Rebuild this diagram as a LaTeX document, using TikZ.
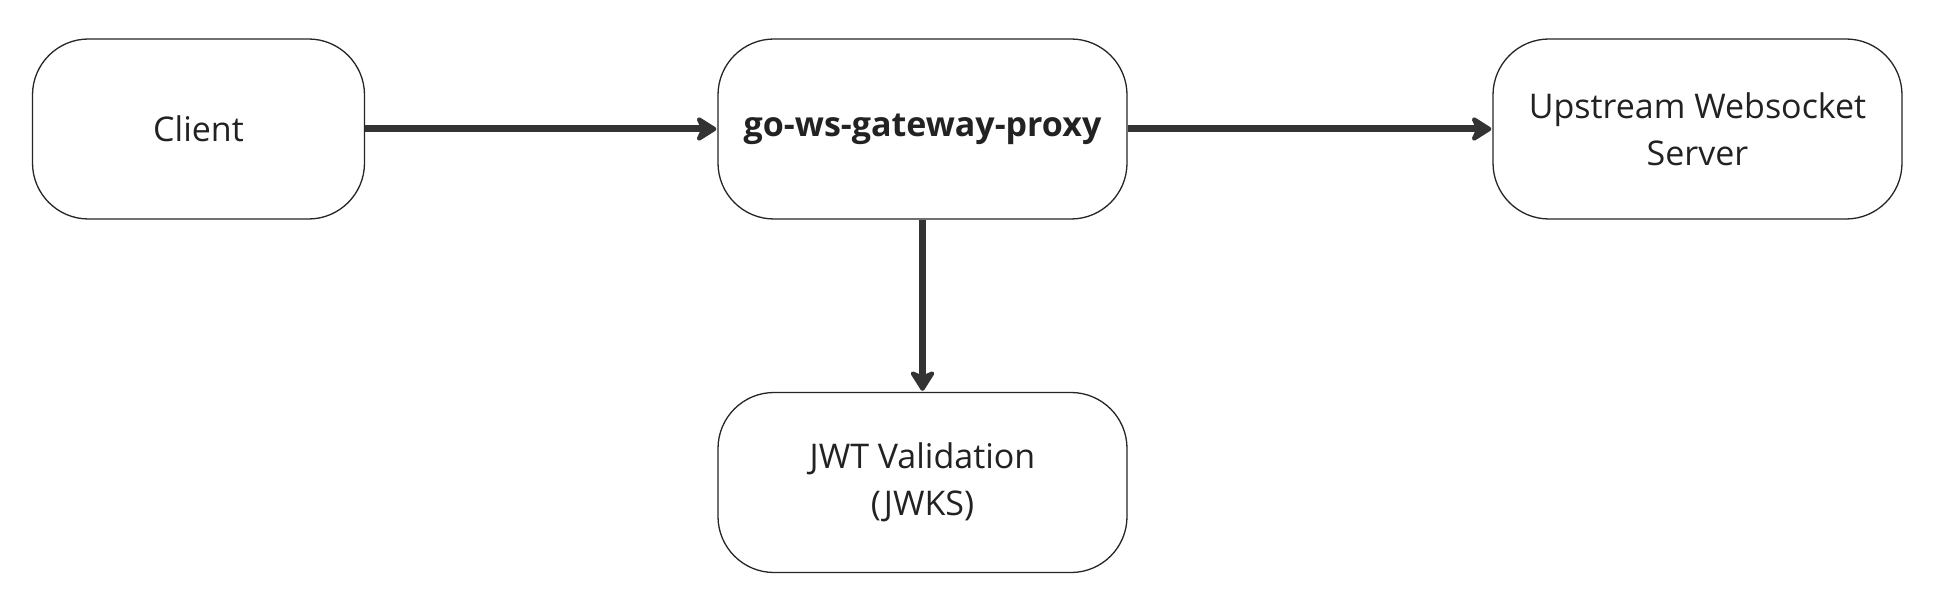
\documentclass[tikz,border=0pt]{standalone}
\usepackage{fontspec}
\setmainfont{Open Sans}
\usetikzlibrary{arrows.meta}
\definecolor{edge}{HTML}{333333}
\definecolor{txt}{HTML}{222222}
\tikzset{
  box/.style={draw=black!85, line width=1.3pt, rounded corners=56pt, minimum width=409pt, minimum height=180pt, inner sep=0pt, align=center, text=txt, font=\fontsize{34}{47}\selectfont},
  flow/.style={draw=edge, line width=7pt, -{Stealth[length=24pt, width=30pt, inset=7pt, round]}, shorten >=1pt}
}
\begin{document}
\begin{tikzpicture}[x=1pt,y=-1pt]
\useasboundingbox[fill=white] (0,0) rectangle (1935,612);
\node[box, minimum width=332pt] (client) at (198.5,129) {Client};
\node[box] (gw) at (922.5,129) {\textbf{go-ws-gateway-proxy}};
\node[box] (up) at (1697.5,129) {Upstream Websocket\\Server};
\node[box] (jwt) at (922.5,482.5) {JWT Validation\\(JWKS)};
\draw[flow] (client.east) -- (gw.west);
\draw[flow] (gw.east) -- (up.west);
\draw[flow] (gw.south) -- (jwt.north);
\end{tikzpicture}
\end{document}
